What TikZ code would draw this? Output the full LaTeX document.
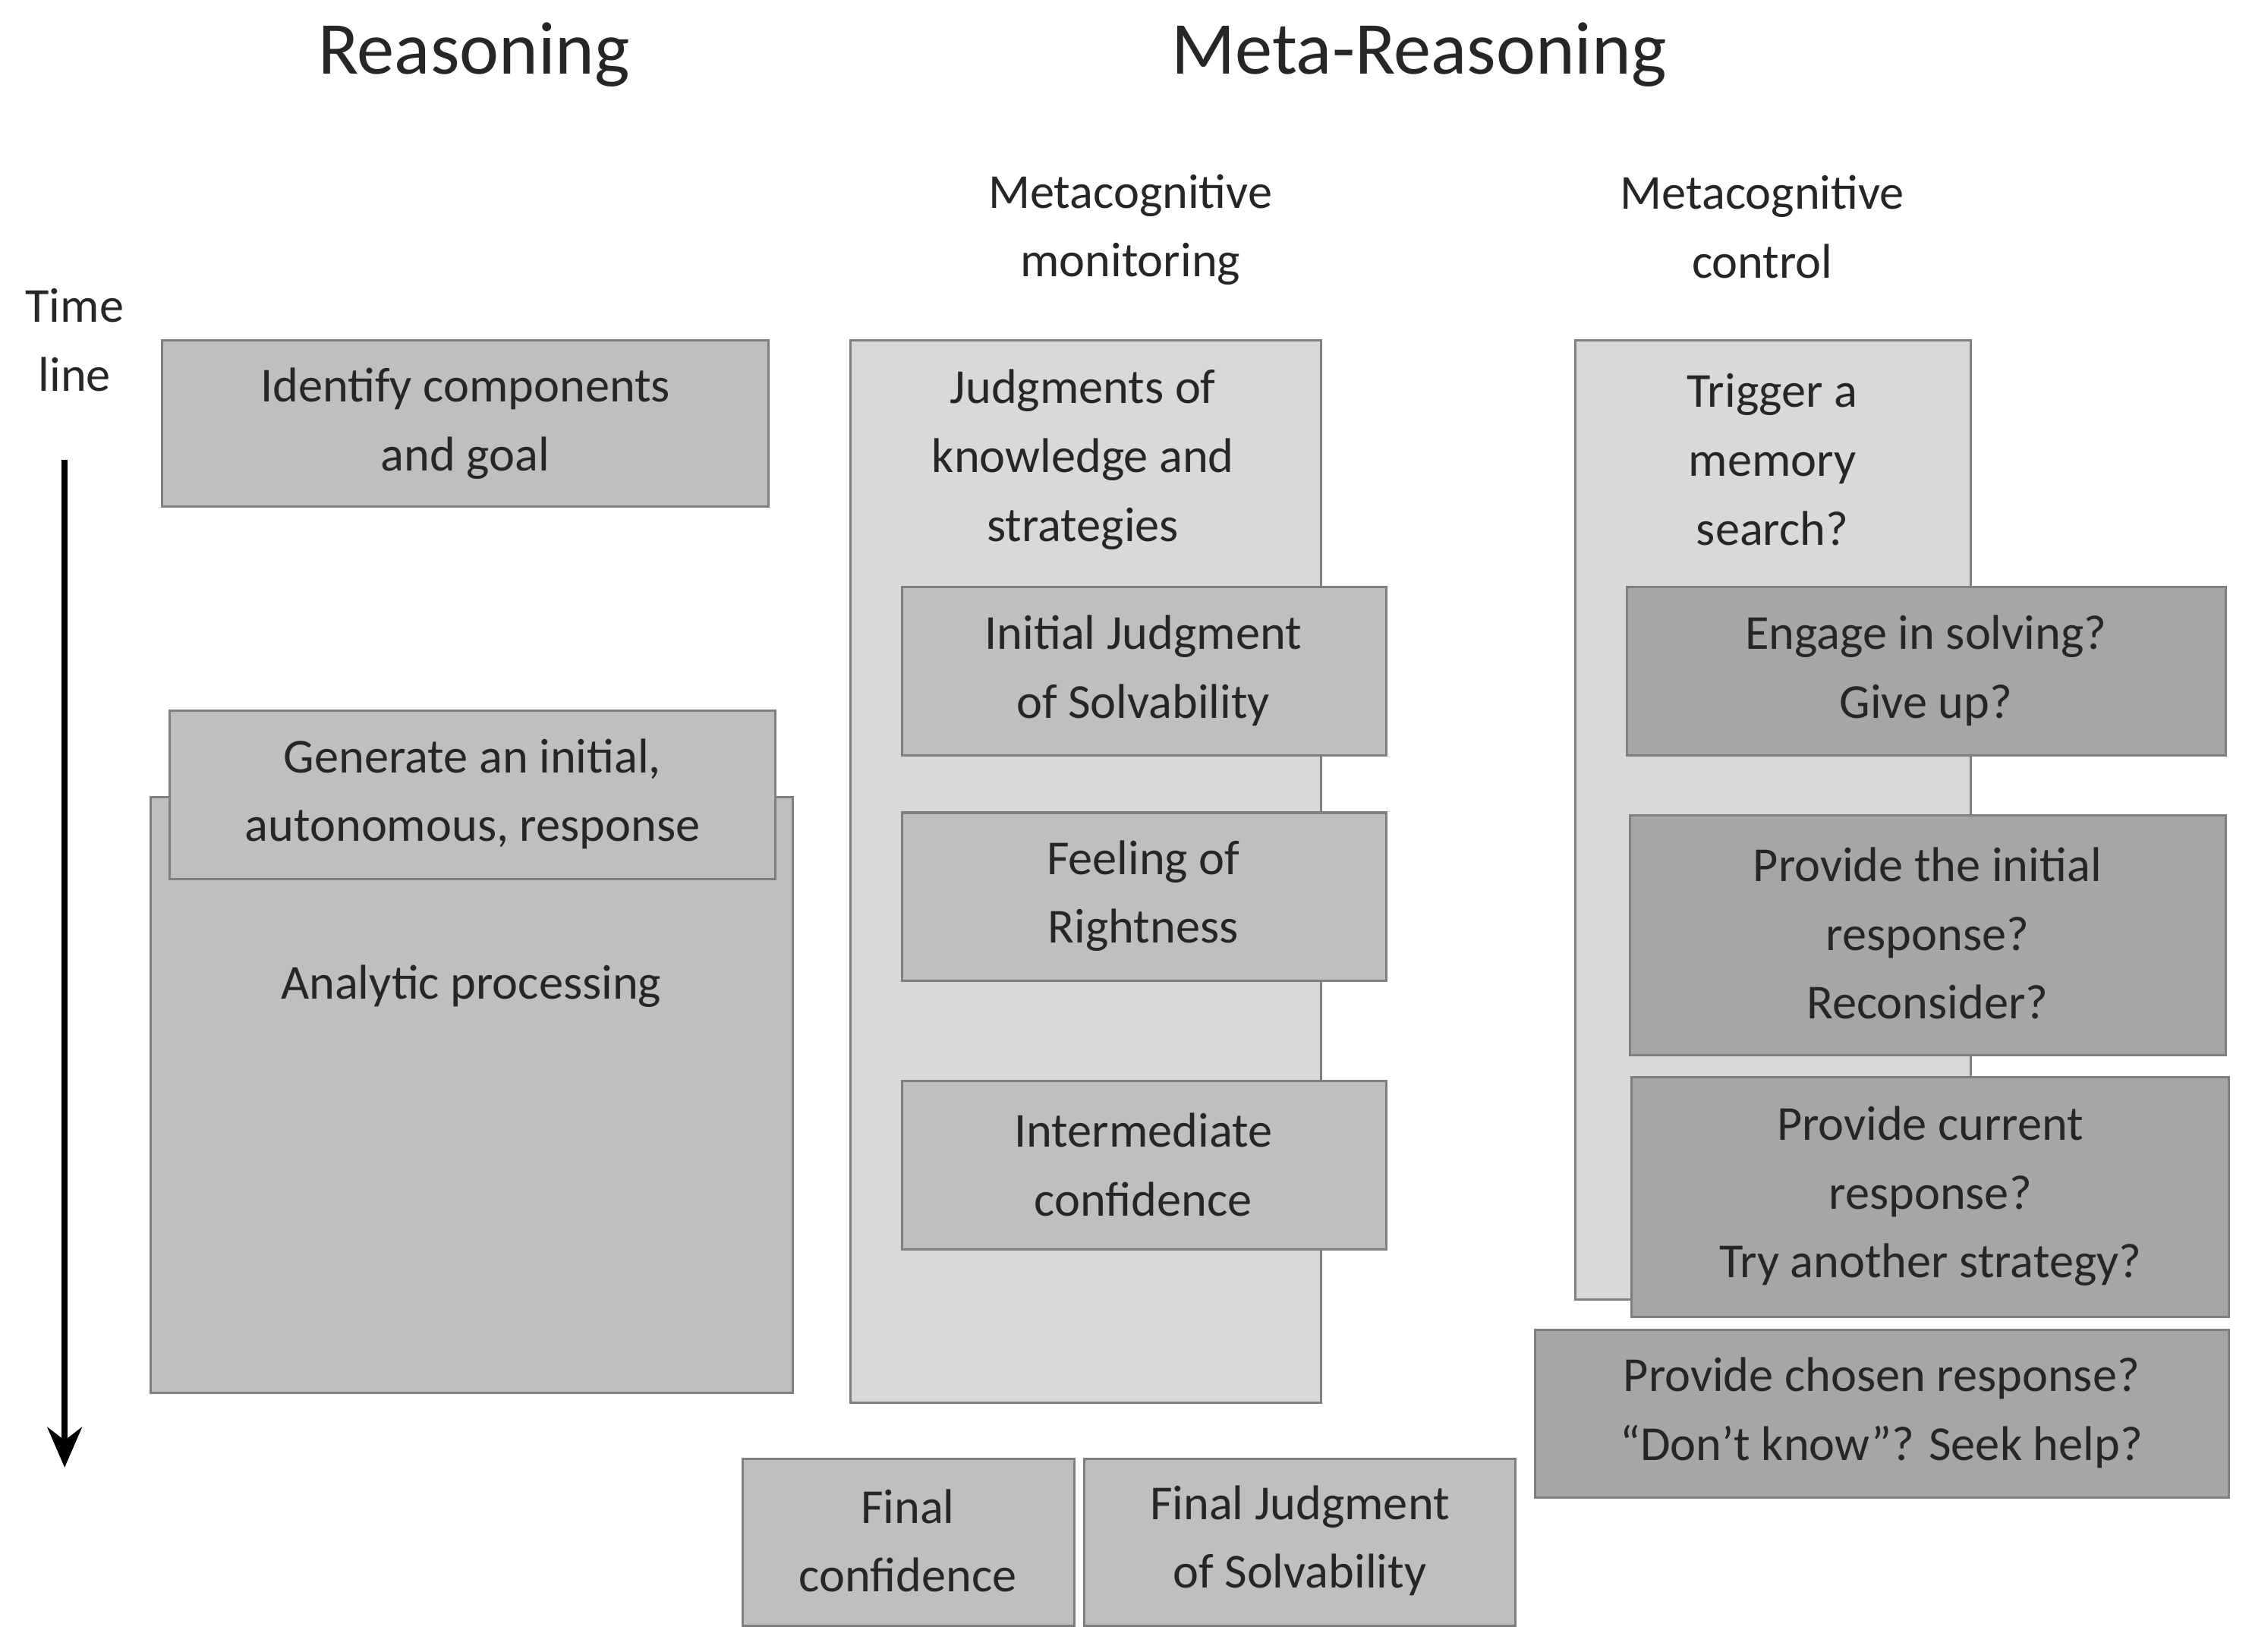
\documentclass[tikz,border=0pt]{standalone}
\usepackage{fontspec}
\setmainfont{Carlito}
\usetikzlibrary{arrows.meta}
\definecolor{lt}{HTML}{D9D9D9}
\definecolor{md}{HTML}{BFBFBF}
\definecolor{dk}{HTML}{A6A6A6}
\definecolor{bd}{HTML}{7F7F7F}
\begin{document}
\begin{tikzpicture}[x=0.5pt,y=-0.5pt,
 bx/.style={draw=bd,line width=0.8pt},
 t/.style={font=\fontsize{17}{24}\selectfont,align=center,text=black!85},
 h/.style={font=\fontsize{26}{30}\selectfont,text=black!85}]
\useasboundingbox (0,0) rectangle (1568,1150);
\node[h] (r) at (330,38) {Reasoning};
\node[h] (m) at (988,38) {Meta-Reasoning};
\node[t] (mm) at (787,160) {Metacognitive\\monitoring};
\node[t] (mc) at (1227,158) {Metacognitive\\control};
\node[t] (tl) at (52,237) {Time\\line};
\coordinate (a1) at (45,320); \coordinate (a2) at (45,1022);
\draw[line width=2.2pt,-{Stealth[length=14pt,width=12pt]}] (a1) -- (a2);
% reasoning
\draw[bx,fill=md] (113,237) rectangle (535,353);
\node[t] (id) at (324,295) {Identify components\\and goal};
\draw[bx,fill=md] (105,555) rectangle (552,970);
\node[t] (ap) at (328,687) {Analytic processing};
\draw[bx,fill=md] (118,495) rectangle (540,612);
\node[t] (gen) at (329,553) {Generate an initial,\\autonomous, response};
% monitoring
\draw[bx,fill=lt] (592,237) rectangle (920,977);
\node[t] (jk) at (754,320) {Judgments of\\knowledge and\\strategies};
\draw[bx,fill=md] (628,409) rectangle (965,526);
\node[t] (ijs) at (796,467) {Initial Judgment\\of Solvability};
\draw[bx,fill=md] (628,566) rectangle (965,683);
\node[t] (fr) at (796,624) {Feeling of\\Rightness};
\draw[bx,fill=md] (628,753) rectangle (965,870);
\node[t] (ic) at (796,811) {Intermediate\\confidence};
\draw[bx,fill=md] (517,1016) rectangle (748,1132);
\node[t] (fc) at (632,1073) {Final\\confidence};
\draw[bx,fill=md] (755,1016) rectangle (1055,1132);
\node[t] (fjs) at (905,1073) {Final Judgment\\of Solvability};
% control
\draw[bx,fill=lt] (1097,237) rectangle (1372,905);
\node[t] (tm) at (1234,320) {Trigger a\\memory\\search?};
\draw[bx,fill=dk] (1133,409) rectangle (1550,526);
\node[t] (en) at (1341,467) {Engage in solving?\\Give up?};
\draw[bx,fill=dk] (1135,568) rectangle (1550,735);
\node[t] (pi) at (1342,650) {Provide the initial\\response?\\Reconsider?};
\draw[bx,fill=dk] (1136,750) rectangle (1552,917);
\node[t] (pc) at (1344,833) {Provide current\\response?\\Try another strategy?};
\draw[bx,fill=dk] (1069,926) rectangle (1552,1043);
\node[t] (pch) at (1310,984) {Provide chosen response?\\``Don't know''? Seek help?};
\end{tikzpicture}
\end{document}
